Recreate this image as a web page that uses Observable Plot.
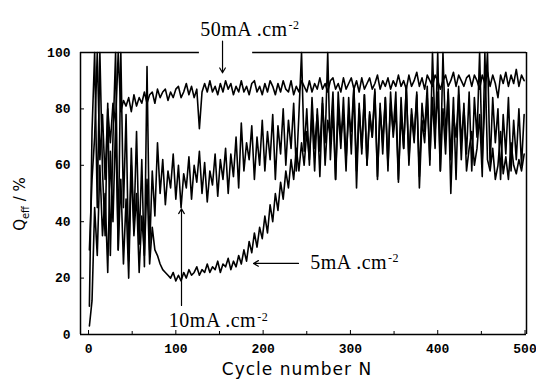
<!DOCTYPE html>
<html><head><meta charset="utf-8">
<script src="https://cdn.jsdelivr.net/npm/d3@7"></script>
<script src="https://cdn.jsdelivr.net/npm/@observablehq/plot@0.6"></script>
<style>body{margin:0;background:#fff}svg{display:block}</style>
</head><body><div id="chart"></div>
<script>
const cycles = [1,4,7,10,13,16,19,22,25,28,31,34,37,40,43,46,49,52,55,58,61,64,67,70,73,76,79,82,85,88,91,94,97,100,103,106,109,112,115,118,121,124,127,130,133,136,139,142,145,148,151,154,157,160,163,166,169,172,175,178,181,184,187,190,193,196,199,202,205,208,211,214,217,220,223,226,229,232,235,238,241,244,247,250,253,256,259,262,265,268,271,274,277,280,283,286,289,292,295,298,301,304,307,310,313,316,319,322,325,328,331,334,337,340,343,346,349,352,355,358,361,364,367,370,373,376,379,382,385,388,391,394,397,400,403,406,409,412,415,418,421,424,427,430,433,436,439,442,445,448,451,454,457,460,463,466,469,472,475,478,481,484,487,490,493,496,499];
const q50 = [30,55,70,100,62,78,55,80,68, 82,75,100,79,83, 81,84,79,85,81,84,82,86,82,85, 86,82,87,84,86,87,83,86,84,87, 88,84,86,89,85,88,84,87, 73, 86,89,86,90,86,88,85,89,86,90,87,
  89,85,88,86,90,86,88,85,89,90,86,88,85,89,86,90,88,85,89,86,90,87,86,90,85,88,86,90,88,86,
  90,86,89,87,91,87,89,86,90,91,87,89,86,91,87,89,91,87,90,86,91,87,89,91,87,89,92,87,90,88,
  91,87,90,88,92,88,90,87,92,88,90,93,88,91,87,92,90,88,92,90,87,90,92,88,90,93,88,92,90,88,
  91,92,88,92,90,87,92,89,93,88,92,89,84,92,89,93,88,92,89,94,88,92,90];
const q10 = [10,72,100,45,100,58,35,82,28, 70,100,30,100,45,78,26,66,38, 72,32,62,24,95,30,58,42,68, 50,62,46,58,52,64,48,
  60,45,57,52,63,48,60,54,65,50,61,47,58,53,64,49,62,55,66,50,
  64,56,70,52,75,58,68,62,74,55,70,60,76,
  58,72,62,78,55,74,64,80,60,76,66,82,58,78,100,65,80,
  60,84,66,78,56,82,68,100,62,80,55,86,70,78,58,84,64,88,52,80,66,85,60,78,70,86,55,82,64,84,
  58,86,70,80,54,84,66,88,60,78,68,86,56,82,72,88,62,84,66,100,58,100,70,86,62,84,55,88,68,80,
  64,86,58,84,70,100,62,82,100,60,84,68,80,55,78,64,84,58,76,62,80,60,78];
const q5 = [3,12,45,28,60,35,50,22,65, 40,75,30,55,25,48,20,60,35, 50,22,42,28,55,25,38,30,28, 25,23,22,21,20,22,19,
  21,19,22,20,23,21,22,24,21,23,22,25,22,24,23,26,22,25,24,27,
  23,26,24,28,25,30,26,33,29,36,31,38,34,
  42,36,46,40,50,44,54,48,58,52,62,55,66,58,68,60,72,
  62,78,58,80,65,84,60,76,70,86,55,80,66,84,62,78,72,88,58,82,64,85,60,79,70,87,56,80,68,84,
  60,82,72,86,55,78,66,88,62,80,70,85,52,76,68,84,60,100,72,86,58,80,64,87,50,78,70,85,62,82,
  58,66,72,60,66,78,56,100,62,58,66,55,60,72,57,63,55,68,60,57,62,58,64];
const seriesNames = ["50mA", "10mA", "5mA"];
const xTicks = [0,100,200,300,400,500];
const xMinor = [50,150,250,350,450];
const yTicks = [0,20,40,60,80,100];
// annotations (data units)
const labelText = ["50mA .cm", "10mA .cm", "5mA .cm"];
const labelN = [128, 92, 254];
const labelQ = [106, 2.5, 23.4];
const arrowN1 = [153.5, 106.5, 240.5];
const arrowQ1 = [104, 10.3, 25.2];
const arrowN2 = [153.5, 106.5, 189];
const arrowQ2 = [92.8, 44.6, 25.2];
const topFrameN1 = [-9.2, 188];
const topFrameN2 = [127, 501.7];

const rows = [];
[q50, q10, q5].forEach((arr, s) => arr.forEach((v, i) => rows.push({series: seriesNames[s], N: cycles[i], Q: v})));
const labels = labelText.map((t, i) => ({t, N: labelN[i], Q: labelQ[i]}));
const arrows = arrowN1.map((n, i) => ({x1: n, y1: arrowQ1[i], x2: arrowN2[i], y2: arrowQ2[i]}));
const topSegs = topFrameN1.map((n, i) => ({x1: n, x2: topFrameN2[i]}));

const tickFont = {fontFamily: "Liberation Mono, DejaVu Sans Mono, monospace", fontWeight: "bold", fontSize: 13};

const plot = Plot.plot({
  width: 536, height: 379,
  marginLeft: 80, marginRight: 10, marginTop: 52, marginBottom: 45,
  style: {fontFamily: "DejaVu Sans, sans-serif", background: "white", color: "black"},
  x: {domain: [-9.2, 501.7]},
  y: {domain: [0, 100]},
  marks: [
    Plot.lineY(rows, {x: "N", y: "Q", z: "series", stroke: "black", strokeWidth: 1.6}),
    Plot.ruleX([-9.2, 501.7], {stroke: "black", strokeWidth: 1.5}),
    Plot.ruleY([0], {stroke: "black", strokeWidth: 1.5}),
    Plot.ruleY(topSegs, {y: 100, x1: "x1", x2: "x2", stroke: "black", strokeWidth: 1.5}),
    Plot.axisY({ticks: yTicks, tickSize: 4, dx: 4, text: null}),
    Plot.axisY({ticks: yTicks, tickSize: 0, tickPadding: 10, label: null, ...tickFont}),
    Plot.axisX({ticks: xTicks, tickSize: 4, dy: -4, text: null}),
    Plot.axisX({ticks: xMinor, tickSize: 3, dy: -3, text: null}),
    Plot.axisX({ticks: xTicks, tickSize: 0, tickPadding: 9, label: null, ...tickFont}),
    Plot.arrow(arrows, {x1: "x1", y1: "y1", x2: "x2", y2: "y2", stroke: "black", strokeWidth: 1.2, headLength: 7, bend: 0}),
    Plot.text(labels, {x: "N", y: "Q", text: "t", textAnchor: "start", lineAnchor: "bottom", fontFamily: "Liberation Serif, serif", fontSize: 20, fill: "black", className: "ann"})
  ]
});

const svg = d3.select(plot);
svg.selectAll("g.ann text").attr("letter-spacing", 0.5).each(function() {
  d3.select(this).append("tspan").attr("dy", "-0.55em").attr("dx", "1").attr("font-size", "12").text("-2");
});
// axis titles
svg.append("text").attr("x", 297).attr("y", 375).attr("text-anchor", "middle")
  .attr("font-family", "DejaVu Sans, sans-serif").attr("font-size", 17).attr("letter-spacing", 1)
  .text("Cycle number N");
const yl = svg.append("text").attr("transform", "translate(25,204) rotate(-90)").attr("text-anchor", "middle")
  .attr("font-family", "DejaVu Sans, sans-serif").attr("font-size", 15);
yl.append("tspan").text("Q");
yl.append("tspan").attr("dy", 4).attr("font-size", 10).text("eff");
yl.append("tspan").attr("dy", -4).text(" / %");
document.getElementById("chart").appendChild(plot);
</script>
</body></html>
